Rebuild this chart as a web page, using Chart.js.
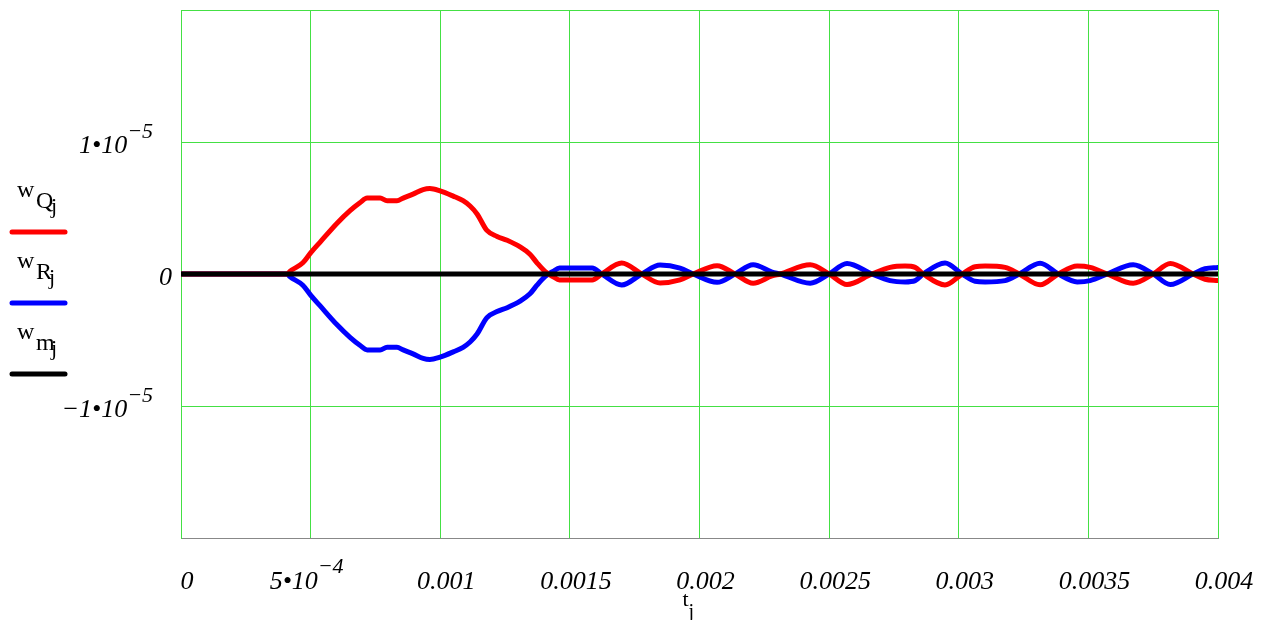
<!DOCTYPE html>
<html><head><meta charset="utf-8">
<script src="https://cdn.jsdelivr.net/npm/chart.js@4"></script>
<style>html,body{margin:0;padding:0;background:#fff;overflow:hidden}</style>
</head><body>
<canvas id="c" width="1271" height="620"></canvas>
<script>
// values in units of 1e-6
const unit = 1e-6;
const tQ = [0, 0.00041, 0.00042, 0.00047, 0.0005, 0.000536, 0.000602, 0.000652, 0.00069, 0.000718, 0.000768, 0.000795, 0.000833, 0.000857, 0.000895, 0.000934, 0.00096, 0.000999, 0.00105, 0.001088, 0.001115, 0.001142, 0.00118, 0.001219, 0.001258, 0.001308, 0.001346, 0.001373, 0.001404, 0.001435, 0.00146, 0.001586, 0.001623, 0.0017, 0.001777, 0.001848, 0.001925, 0.001976, 0.002068, 0.002137, 0.002207, 0.00228, 0.002311, 0.002427, 0.0025, 0.002569, 0.002665, 0.002735, 0.002793, 0.002832, 0.002863, 0.002947, 0.003013, 0.003063, 0.003102, 0.003179, 0.003233, 0.003314, 0.003384, 0.003457, 0.003507, 0.003573, 0.003673, 0.00375, 0.003816, 0.003904, 0.00395, 0.004];
const wQ = [0, 0, 0.2, 0.85, 1.6, 2.4, 3.85, 4.8, 5.4, 5.75, 5.75, 5.55, 5.55, 5.75, 6.05, 6.4, 6.48, 6.3, 5.9, 5.55, 5.15, 4.55, 3.3, 2.85, 2.55, 2.05, 1.5, 0.85, 0.2, -0.2, -0.45, -0.45, 0, 0.83, 0, -0.68, -0.45, 0, 0.63, 0, -0.7, -0.15, 0, 0.7, 0, -0.8, 0, 0.5, 0.6, 0.5, 0, -0.83, 0, 0.55, 0.6, 0.5, 0, -0.82, 0, 0.6, 0.5, 0, -0.7, 0, 0.8, 0, -0.4, -0.5];
const tR = tQ;
const wR = [0, 0, -0.2, -0.85, -1.6, -2.4, -3.85, -4.8, -5.4, -5.75, -5.75, -5.55, -5.55, -5.75, -6.05, -6.4, -6.48, -6.3, -5.9, -5.55, -5.15, -4.55, -3.3, -2.85, -2.55, -2.05, -1.5, -0.85, -0.2, 0.2, 0.45, 0.45, 0, -0.83, 0, 0.68, 0.45, 0, -0.63, 0, 0.7, 0.15, 0, -0.7, 0, 0.8, 0, -0.5, -0.6, -0.5, 0, 0.83, 0, -0.55, -0.6, -0.5, 0, 0.82, 0, -0.6, -0.5, 0, 0.7, 0, -0.8, 0, 0.4, 0.5];
const tM = [0, 0.004];
const wM = [0, 0];

const xTickValues = [0, 0.0005, 0.001, 0.0015, 0.002, 0.0025, 0.003, 0.0035, 0.004];
const xTickBase = ['0', '5\u202210', '0.001', '0.0015', '0.002', '0.0025', '0.003', '0.0035', '0.004'];
const xTickExp  = ['', '\u22124', '', '', '', '', '', '', ''];
const yGridValues = [-2e-5, -1e-5, 0, 1e-5, 2e-5];
const yTickValues = [1e-5, 0, -1e-5];
const yTickBase = ['1\u202210', '0', '\u22121\u202210'];
const yTickExp  = ['\u22125', '', '\u22125'];
const legendSubs = ['Q', 'R', 'm'];
const seriesColors = ['#ff0000', '#0000ff', '#000000'];

const pts = (t, w) => t.map((v, i) => ({x: v, y: w[i] * unit}));

const labelsPlugin = {
  id: 'labels',
  afterDraw(chart) {
    const ctx = chart.ctx, xs = chart.scales.x, ys = chart.scales.y, ca = chart.chartArea;
    ctx.save();
    ctx.fillStyle = '#000';
    ctx.textBaseline = 'alphabetic';
    ctx.textAlign = 'left';
    const baseFont = 'italic 26px "Liberation Serif"';
    const expFont = 'italic 22px "Liberation Serif"';
    // y tick labels
    yTickValues.forEach((v, i) => {
      const y = ys.getPixelForValue(v);
      ctx.font = baseFont; const bw = ctx.measureText(yTickBase[i]).width;
      ctx.font = expFont; const ew = yTickExp[i] ? ctx.measureText(yTickExp[i]).width : 0;
      const right = yTickExp[i] ? ca.left - 28 : ca.left - 9;
      const x0 = right - bw - ew;
      ctx.font = baseFont; ctx.fillText(yTickBase[i], x0, y + 11);
      if (ew) { ctx.font = expFont; ctx.fillText(yTickExp[i], x0 + bw, y - 4); }
    });
    // x tick labels
    xTickValues.forEach((v, i) => {
      const x = xs.getPixelForValue(v);
      ctx.font = baseFont; const bw = ctx.measureText(xTickBase[i]).width;
      ctx.font = expFont; const ew = xTickExp[i] ? ctx.measureText(xTickExp[i]).width : 0;
      const cx = x + 6 - (ew ? 10 : 0);
      const x0 = cx - (bw + ew) / 2;
      const by = ca.bottom + 51;
      ctx.font = baseFont; ctx.fillText(xTickBase[i], x0, by);
      if (ew) { ctx.font = expFont; ctx.fillText(xTickExp[i], x0 + bw, by - 16); }
    });
    // x axis title t_j
    const tx = (ca.left + ca.right) / 2 - 17;
    ctx.font = '22px "Liberation Serif"';
    ctx.fillText('t', tx, ca.bottom + 68);
    ctx.font = '20px "Liberation Serif"';
    ctx.fillText('j', tx + 6, ca.bottom + 80);
    // legend
    legendSubs.forEach((s, i) => {
      const ly = 232 + i * 71;
      ctx.strokeStyle = seriesColors[i];
      ctx.lineWidth = 5;
      ctx.lineCap = 'round';
      ctx.beginPath(); ctx.moveTo(12, ly); ctx.lineTo(65, ly); ctx.stroke();
      ctx.font = '24px "Liberation Serif"';
      ctx.fillText('w', 17, ly - 35);
      ctx.fillText(s, 36, ly - 24);
      ctx.font = '22px "Liberation Serif"';
      ctx.fillText('j', s === 'R' ? 49 : 51, ly - 19);
    });
    ctx.restore();
  }
};

const gridGreen = '#44e044';
new Chart(document.getElementById('c'), {
  type: 'line',
  data: {
    datasets: [
      {label: 'wm', data: pts(tM, wM), borderColor: seriesColors[2], order: 0},
      {label: 'wQ', data: pts(tQ, wQ), borderColor: seriesColors[0], order: 1},
      {label: 'wR', data: pts(tR, wR), borderColor: seriesColors[1], order: 2}
    ]
  },
  options: {
    responsive: false,
    animation: false,
    devicePixelRatio: 1,
    layout: {padding: {left: 181, right: 53, top: 10, bottom: 82}},
    plugins: {legend: {display: false}, tooltip: {enabled: false}},
    elements: {
      point: {radius: 0},
      line: {borderWidth: 5, cubicInterpolationMode: 'monotone', borderCapStyle: 'round', borderJoinStyle: 'round', fill: false}
    },
    scales: {
      x: {
        type: 'linear', min: 0, max: 0.004,
        afterBuildTicks: s => { s.ticks = xTickValues.map(v => ({value: v})); },
        ticks: {display: false},
        grid: {color: gridGreen, lineWidth: 1, drawTicks: false},
        border: {display: true, color: '#888888', width: 1}
      },
      y: {
        type: 'linear', min: -2e-5, max: 2e-5,
        afterBuildTicks: s => { s.ticks = yGridValues.map(v => ({value: v})); },
        ticks: {display: false},
        grid: {color: gridGreen, lineWidth: 1, drawTicks: false},
        border: {display: true, color: gridGreen, width: 1}
      }
    }
  },
  plugins: [labelsPlugin]
});
</script>
</body></html>
